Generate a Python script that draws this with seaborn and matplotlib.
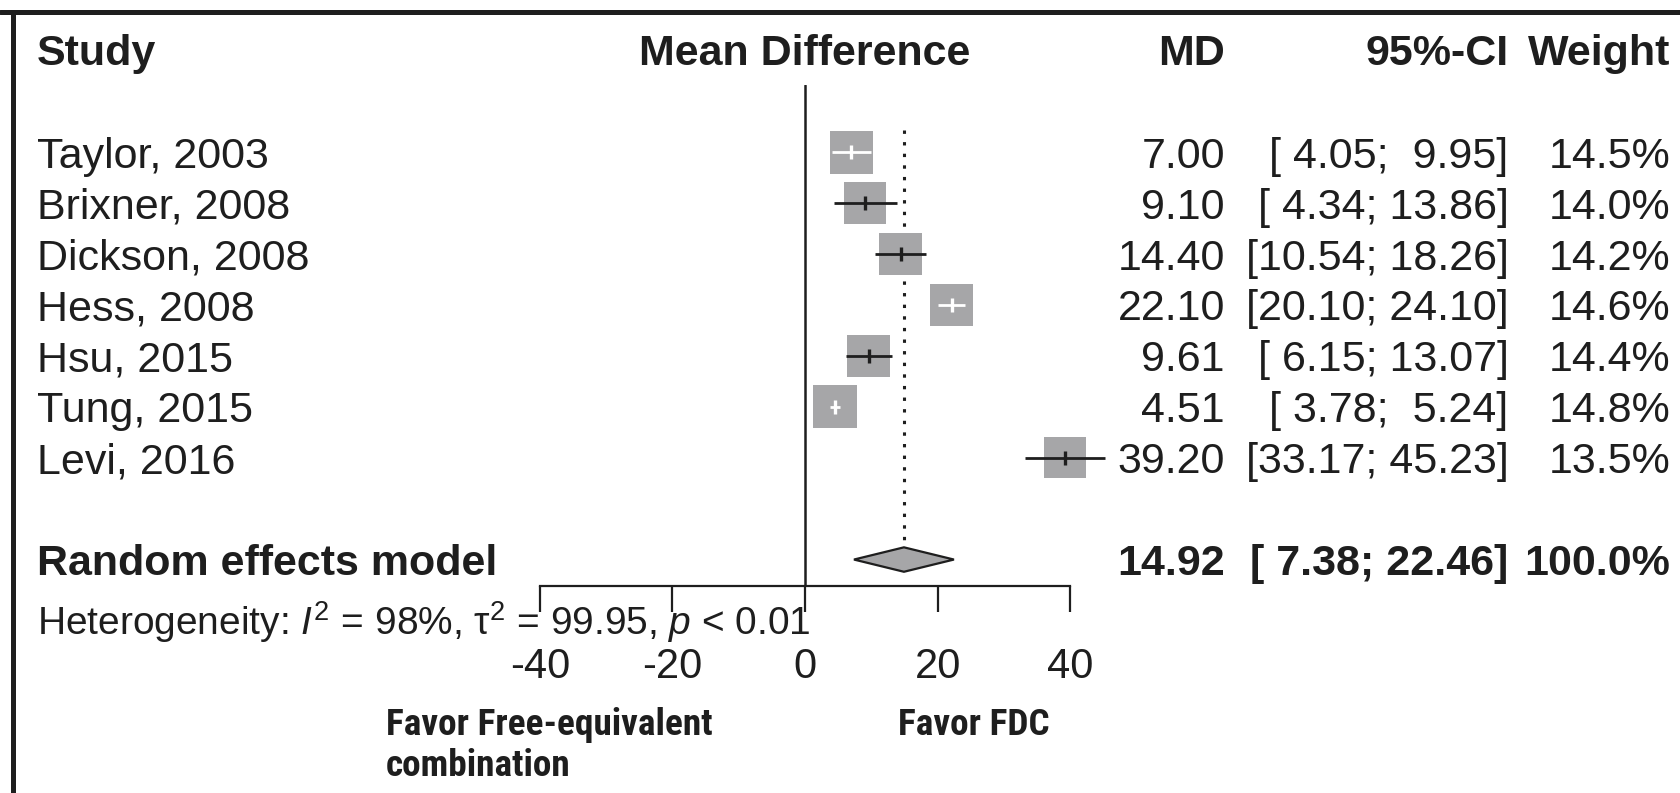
import numpy as np
import pandas as pd
import matplotlib.pyplot as plt
import matplotlib.transforms as mtransforms
from matplotlib.lines import Line2D
from matplotlib import font_manager
import seaborn as sns

# ---------- data ----------
studies = ["Taylor, 2003", "Brixner, 2008", "Dickson, 2008", "Hess, 2008",
           "Hsu, 2015", "Tung, 2015", "Levi, 2016"]
md = [7.00, 9.10, 14.40, 22.10, 9.61, 4.51, 39.20]
ci_lower = [4.05, 4.34, 10.54, 20.10, 6.15, 3.78, 33.17]
ci_upper = [9.95, 13.86, 18.26, 24.10, 13.07, 5.24, 45.23]
weights = [14.5, 14.0, 14.2, 14.6, 14.4, 14.8, 13.5]

re_label = "Random effects model"
re_md, re_lower, re_upper, re_weight = 14.92, 7.38, 22.46, 100.0
het_text = r"Heterogeneity: $\mathit{I}^2$ = 98%, $\mathrm{\tau}^2$ = 99.95, $\mathit{p}$ < 0.01"

x_ticks = [-40, -20, 0, 20, 40]
favor_left = ["Favor Free-equivalent", "combination"]
favor_right = "Favor FDC"

df = pd.DataFrame({"study": studies, "md": md, "lower": ci_lower,
                   "upper": ci_upper, "weight": weights})
df["row"] = np.arange(len(df))
re_row = len(df) + 1

# ---------- style ----------
sns.set_theme(style="white")
plt.rcParams["font.family"] = ["Liberation Sans", "DejaVu Sans"]
plt.rcParams["axes.unicode_minus"] = False
plt.rcParams["mathtext.fontset"] = "custom"
plt.rcParams["mathtext.rm"] = "Liberation Sans"
plt.rcParams["mathtext.it"] = "Liberation Sans:italic"
plt.rcParams["mathtext.bf"] = "Liberation Sans:bold"

# a condensed bold face for the "Favor ..." labels if one is installed
installed = {f.name for f in font_manager.fontManager.ttflist}
narrow = "DejaVu Sans"
for cand in ["Liberation Sans Narrow", "Roboto Condensed", "Open Sans Condensed"]:
    if cand in installed:
        narrow = cand
        break

ink = "#1e1e1e"
box_grey = "#a6a6a8"
fs = 31

fig = plt.figure(figsize=(16.81, 7.93), dpi=100)
ax = fig.add_axes([0.2817, 0.261, 0.3944, 0.6318])
ax.set_xlim(-50, 50)
ax.set_ylim(8.52, -1.32)

# zero line and pooled estimate line
ax.axvline(0, color=ink, lw=1.8, zorder=1)
ax.vlines(re_md, -0.43, re_row - 0.24, color=ink, lw=2.2,
          linestyles=(0, (1.1, 2.7)), zorder=1)

# study squares, area proportional to weight
sns.scatterplot(data=df, x="md", y="row", size="weight", sizes=(0, 6520),
                size_norm=(0, 100), marker="s", color=box_grey, linewidth=0,
                legend=False, ax=ax, zorder=2)

# CI lines: white when they fall inside the square
px_per_unit = ax.transData.transform((1, 0))[0] - ax.transData.transform((0, 0))[0]
half = np.sqrt(65.2 * df["weight"]) * 100 / 72 / 2 / px_per_unit
inside = (df["lower"] >= df["md"] - half) & (df["upper"] <= df["md"] + half)
ci_col = np.where(inside, "white", ink)
ax.hlines(df["row"], df["lower"], df["upper"], colors=ci_col, lw=2.0, zorder=3)
for c in ["white", ink]:
    sub = df[ci_col == c]
    ax.plot(sub["md"], sub["row"], "|", color=c, ms=10, mew=2.4, zorder=4)

# pooled diamond
ax.fill([re_lower, re_md, re_upper, re_md],
        [re_row, re_row - 0.24, re_row, re_row + 0.24],
        facecolor=box_grey, edgecolor=ink, lw=1.6, zorder=3)

# axis
sns.despine(ax=ax, left=True, top=True, right=True)
ax.spines["bottom"].set_bounds(x_ticks[0], x_ticks[-1])
ax.spines["bottom"].set_linewidth(1.6)
ax.spines["bottom"].set_color(ink)
ax.set_xticks(x_ticks)
ax.set_xticklabels([str(t) for t in x_ticks])
ax.set_yticks([])
ax.tick_params(axis="x", direction="out", length=18.7, width=1.6, color=ink,
               pad=25.5, labelsize=30, labelcolor=ink, bottom=True)
ax.set_xlabel("")
ax.set_ylabel("")

# ---------- text columns ----------
tr = mtransforms.blended_transform_factory(fig.transFigure, ax.transData)
x_study, x_md, x_ci, x_w = 0.022, 0.7287, 0.8975, 0.9935
head_row = -2.02

def put(x, y, s, ha="left", bold=False, size=fs):
    fig.text(x, y, s, transform=tr, ha=ha, va="center_baseline", fontsize=size,
             color=ink, fontweight="bold" if bold else "normal")

put(x_study, head_row, "Study", bold=True)
put(0.4789, head_row, "Mean Difference", ha="center", bold=True)
put(x_md, head_row, "MD", ha="right", bold=True)
put(x_ci, head_row, "95%-CI", ha="right", bold=True)
put(x_w, head_row, "Weight", ha="right", bold=True)

for _, r in df.iterrows():
    put(x_study, r["row"], r["study"])
    put(x_md, r["row"], f"{r['md']:.2f}", ha="right")
    put(x_ci, r["row"], f"[{r['lower']:5.2f}; {r['upper']:5.2f}]", ha="right")
    put(x_w, r["row"], f"{r['weight']:.1f}%", ha="right")

put(x_study, re_row, re_label, bold=True)
put(x_md, re_row, f"{re_md:.2f}", ha="right", bold=True)
put(x_ci, re_row, f"[{re_lower:5.2f}; {re_upper:5.2f}]", ha="right", bold=True)
put(x_w, re_row, f"{re_weight:.1f}%", ha="right", bold=True)
put(x_study, 9.13, het_text, size=28)

# favour labels under the axis
favor_kw = dict(ha="left", va="center_baseline", fontsize=26, fontweight="bold",
                family=[narrow, "DejaVu Sans"], fontstretch="condensed",
                color=ink, transform=fig.transFigure)
f1 = fig.text(0.2296, 1 - 721 / 793, favor_left[0], **favor_kw)
f2 = fig.text(0.2296, 1 - 762 / 793, favor_left[1], **favor_kw)
f3 = fig.text(0.5342, 1 - 721 / 793, favor_right, **favor_kw)
fig.canvas.draw()
scale = 327 / f1.get_window_extent().width
for t in (f1, f2, f3):
    t.set_fontsize(26 * min(scale, 1.15))

# frame lines at top and left
top_y = 1 - 12 / 793
fig.add_artist(Line2D([0, 1], [top_y, top_y], transform=fig.transFigure,
                      lw=3.6, color=ink))
fig.add_artist(Line2D([13 / 1681, 13 / 1681], [0, top_y], transform=fig.transFigure,
                      lw=3.6, color=ink))

fig.savefig("out.png", dpi=100)
